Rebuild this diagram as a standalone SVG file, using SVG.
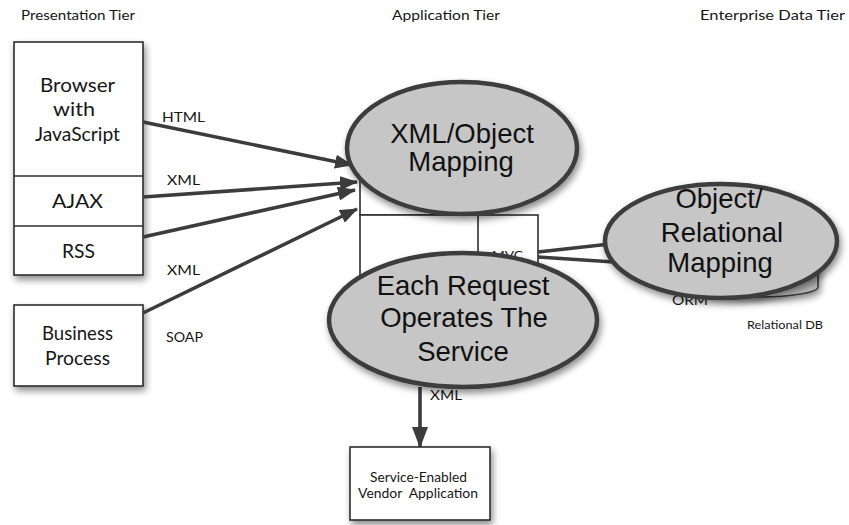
<svg xmlns="http://www.w3.org/2000/svg" width="849" height="525" viewBox="0 0 849 525">
<defs>
<filter id="sh" x="-20%" y="-20%" width="150%" height="160%">
<feDropShadow dx="2" dy="4" stdDeviation="3.5" flood-color="#000" flood-opacity="0.45"/>
</filter>
<linearGradient id="cyl" x1="0" y1="0" x2="1" y2="0">
<stop offset="0" stop-color="#f4f4f4"/>
<stop offset="0.5" stop-color="#e0e0e0"/>
<stop offset="1" stop-color="#b4b4b4"/>
</linearGradient>
<marker id="ah" viewBox="0 0 18 14" refX="17" refY="7" markerWidth="18" markerHeight="14" markerUnits="userSpaceOnUse" orient="auto">
<path d="M0,0 L18,7 L0,14 z" fill="#3c3c3c"/>
</marker>
<marker id="ahb" viewBox="0 0 21 16" refX="20" refY="8" markerWidth="21" markerHeight="16" markerUnits="userSpaceOnUse" orient="auto">
<path d="M0,0 L21,8 L0,16 z" fill="#3c3c3c"/>
</marker>
</defs>
<style>
.g{font-family:Lato,"Open Sans","Liberation Sans",sans-serif;fill:#161616}
.h{font-family:"Liberation Sans",Arial,sans-serif;fill:#111;font-size:27.5px;text-anchor:middle}
.box{fill:#fff;stroke:#2e2e2e;stroke-width:1.6}
.ell{fill:#c6c6c6;stroke:#3c3c3c;stroke-width:4.5}
.ln{fill:none;stroke:#3c3c3c;stroke-width:3.6}
.thin{fill:none;stroke:#2e2e2e;stroke-width:1.6}
</style>
<rect width="849" height="525" fill="#fff"/>

<g id="tiers">
<text class="g" x="21" y="20" font-size="13" textLength="114" lengthAdjust="spacingAndGlyphs">Presentation Tier</text>
<text class="g" x="392" y="20" font-size="13" textLength="108" lengthAdjust="spacingAndGlyphs">Application Tier</text>
<text class="g" x="700" y="20" font-size="13" textLength="145" lengthAdjust="spacingAndGlyphs">Enterprise Data Tier</text>
</g>

<g id="client-stack">
<rect class="box" x="14" y="42" width="129" height="233" filter="url(#sh)"/>
<line class="thin" x1="14" y1="176" x2="143" y2="176"/>
<line class="thin" x1="14" y1="226" x2="143" y2="226"/>
<text class="g" x="40" y="92" font-size="19" textLength="75" lengthAdjust="spacingAndGlyphs">Browser</text>
<text class="g" x="53" y="116" font-size="19" textLength="42" lengthAdjust="spacingAndGlyphs">with</text>
<text class="g" x="35" y="141" font-size="19" textLength="85" lengthAdjust="spacingAndGlyphs">JavaScript</text>
<text class="g" x="52" y="208" font-size="19" textLength="51" lengthAdjust="spacingAndGlyphs">AJAX</text>
<text class="g" x="62" y="258" font-size="19" textLength="33" lengthAdjust="spacingAndGlyphs">RSS</text>
</g>

<g id="business-process">
<rect class="box" x="14" y="305" width="129" height="81" filter="url(#sh)"/>
<text class="g" x="42" y="340" font-size="19" textLength="71" lengthAdjust="spacingAndGlyphs">Business</text>
<text class="g" x="45" y="365" font-size="19" textLength="65" lengthAdjust="spacingAndGlyphs">Process</text>
</g>

<g id="app-server">
<rect class="box" x="360" y="160" width="118" height="55"/>
<rect class="box" x="360" y="215" width="178" height="70"/>
<line class="thin" x1="478" y1="215" x2="478" y2="285"/>
<text class="g" x="492" y="259" font-size="11" textLength="31" lengthAdjust="spacingAndGlyphs">MVC</text>
</g>

<g id="relational-db">
<path d="M700,222 L700,287 A59,10 0 0 0 818,287 L818,222 A59,10 0 0 0 700,222 z" fill="url(#cyl)" stroke="#3c3c3c" stroke-width="1.6" filter="url(#sh)"/>
<text class="g" x="747" y="329" font-size="11" textLength="76" lengthAdjust="spacingAndGlyphs">Relational DB</text>
<text class="g" x="672" y="305" font-size="13" textLength="36" lengthAdjust="spacingAndGlyphs">ORM</text>
</g>

<g id="connectors">
<line class="ln" x1="143" y1="122" x2="352" y2="165" marker-end="url(#ah)"/>
<line class="ln" x1="143" y1="197" x2="357" y2="182" marker-end="url(#ah)"/>
<line class="ln" x1="143" y1="237" x2="355" y2="190" marker-end="url(#ah)"/>
<line class="ln" x1="143" y1="313" x2="357" y2="209" marker-end="url(#ah)"/>
<line class="ln" x1="420" y1="387" x2="420" y2="447" marker-end="url(#ahb)"/>
<line class="ln" x1="538" y1="252" x2="700" y2="234"/>
<line class="ln" x1="538" y1="257" x2="705" y2="268"/>
<text class="g" x="162" y="122" font-size="14" textLength="43" lengthAdjust="spacingAndGlyphs">HTML</text>
<text class="g" x="167" y="185" font-size="14" textLength="33" lengthAdjust="spacingAndGlyphs">XML</text>
<text class="g" x="167" y="275" font-size="14" textLength="33" lengthAdjust="spacingAndGlyphs">XML</text>
<text class="g" x="166" y="342" font-size="14" textLength="37" lengthAdjust="spacingAndGlyphs">SOAP</text>
<text class="g" x="430" y="400" font-size="14" textLength="32" lengthAdjust="spacingAndGlyphs">XML</text>
</g>

<g id="xml-object-mapping">
<ellipse class="ell" cx="462" cy="148" rx="115" ry="66" filter="url(#sh)"/>
<text class="h" x="462" y="143">XML/Object</text>
<text class="h" x="461" y="171">Mapping</text>
</g>

<g id="object-relational-mapping">
<ellipse class="ell" cx="721" cy="241" rx="116" ry="57" filter="url(#sh)"/>
<text class="h" x="719" y="208">Object/</text>
<text class="h" x="722" y="242">Relational</text>
<text class="h" x="720" y="272">Mapping</text>
</g>

<g id="each-request">
<ellipse class="ell" cx="463" cy="320" rx="134" ry="67" filter="url(#sh)"/>
<text class="h" x="463" y="295">Each Request</text>
<text class="h" x="464" y="327">Operates The</text>
<text class="h" x="463" y="361">Service</text>
</g>

<g id="vendor-application">
<rect class="box" x="350" y="447" width="140" height="73" filter="url(#sh)"/>
<text class="g" x="370" y="482" font-size="13" textLength="97" lengthAdjust="spacingAndGlyphs">Service-Enabled</text>
<text class="g" x="358" y="498" font-size="13" textLength="120" lengthAdjust="spacingAndGlyphs" style="white-space:pre">Vendor  Application</text>
</g>
</svg>
